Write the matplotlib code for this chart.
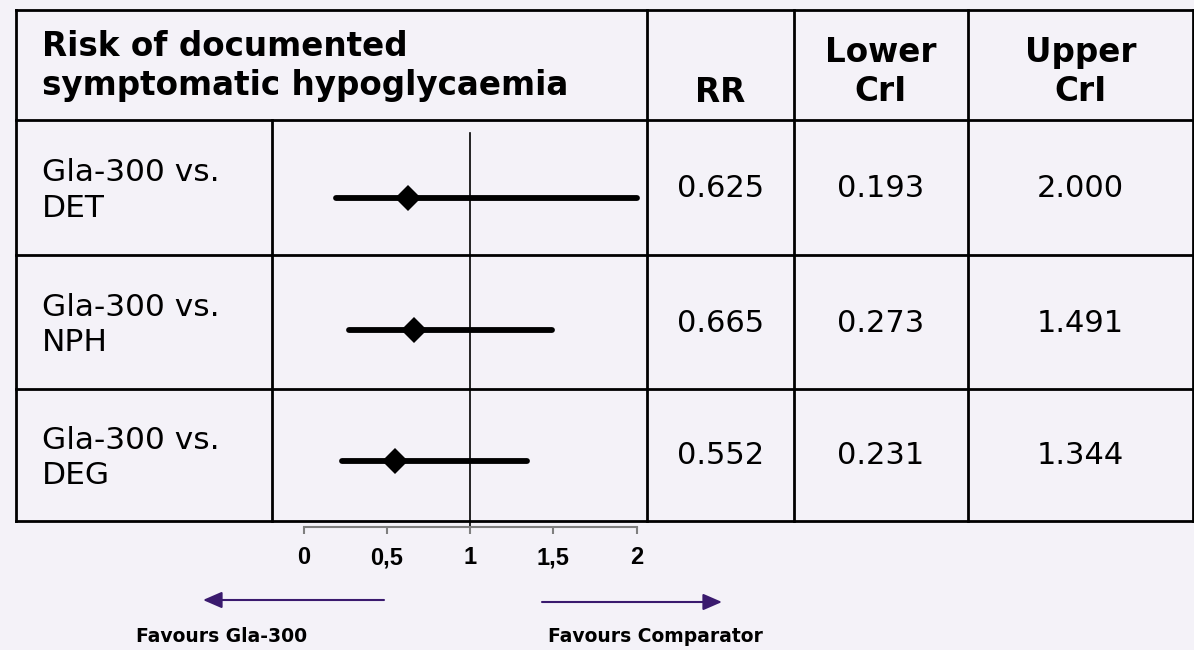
import matplotlib
matplotlib.use("Agg")
import matplotlib.pyplot as plt
from matplotlib.ticker import FuncFormatter, FixedLocator

# ---- data -------------------------------------------------------------
comparisons = ["Gla-300 vs.\nDET", "Gla-300 vs.\nNPH", "Gla-300 vs.\nDEG"]
rr = [0.625, 0.665, 0.552]
lower_cri = [0.193, 0.273, 0.231]
upper_cri = [2.000, 1.491, 1.344]
axis_ticks = [0, 0.5, 1, 1.5, 2]
title = "Risk of documented\nsymptomatic hypoglycaemia"
col_headers = ["RR", "Lower\nCrI", "Upper\nCrI"]
favours_left = "Favours Gla-300"
favours_right = "Favours Comparator"

# ---- style ------------------------------------------------------------
BG = "#F4F2F8"
INK = "#000000"
ARROW = "#3A1A6E"
AXIS_GREY = "#7F7F7F"
W, H = 1194, 650

fig = plt.figure(figsize=(W / 100, H / 100), dpi=100, facecolor=BG)

# full-figure canvas in pixel units for the table grid and text
cv = fig.add_axes([0, 0, 1, 1])
cv.set_xlim(0, W)
cv.set_ylim(H, 0)
cv.axis("off")
cv.set_facecolor(BG)

x_left, x_lab, x_rr, x_lo, x_up, x_right = 16, 272, 647, 794, 968, 1193
y_top, y_head = 10, 120
row_edges = [120, 255, 389, 521]
y_bot = row_edges[-1]
lw = 2.0

for y in [y_top] + row_edges:
    cv.plot([x_left, x_right], [y, y], color=INK, lw=lw, solid_capstyle="projecting")
for x in [x_left, x_rr, x_lo, x_up, x_right]:
    cv.plot([x, x], [y_top, y_bot], color=INK, lw=lw, solid_capstyle="projecting")
cv.plot([x_lab, x_lab], [y_head, y_bot], color=INK, lw=lw)

body_font = "DejaVu Sans"
fs_body = 22.5
fs_num = 22
fs_head = 23.5

cv.text(42, 66, title, ha="left", va="center", fontsize=fs_head,
        fontweight="bold", family=body_font, linespacing=1.2)
col_centers = [(x_rr + x_lo) / 2, (x_lo + x_up) / 2, (x_up + x_right) / 2]
cv.text(col_centers[0], 92, col_headers[0], ha="center", va="center",
        fontsize=fs_head, fontweight="bold", family=body_font)
for cx, hdr in zip(col_centers[1:], col_headers[1:]):
    cv.text(cx, 72, hdr, ha="center", va="center", fontsize=fs_head,
            fontweight="bold", family=body_font, linespacing=1.2)

for i, label in enumerate(comparisons):
    yc = (row_edges[i] + row_edges[i + 1]) / 2
    cv.text(42, yc + 3, label, ha="left", va="center", fontsize=fs_body,
            family=body_font, linespacing=1.28)
    for cx, val in zip(col_centers, (rr[i], lower_cri[i], upper_cri[i])):
        cv.text(cx, yc + 1, f"{val:.3f}", ha="center", va="center",
                fontsize=fs_num, family=body_font)

# ---- forest plot column ----------------------------------------------
px0, px_per_unit = 303.5, 166.5          # x pixel of RR=0 and pixels per unit
fx_left, fx_right = x_lab, x_rr
fy_top, fy_bot = y_head, 527
ax = fig.add_axes([fx_left / W, 1 - fy_bot / H, (fx_right - fx_left) / W,
                   (fy_bot - fy_top) / H])
ax.set_facecolor("none")
ax.set_xlim((fx_left - px0) / px_per_unit, (fx_right - px0) / px_per_unit)
row_px0, row_step = 198, 131.5
ax.set_ylim((fy_bot - row_px0) / row_step, (fy_top - row_px0) / row_step)

for s in ("top", "left", "right"):
    ax.spines[s].set_visible(False)
ax.spines["bottom"].set_bounds(axis_ticks[0], axis_ticks[-1])
ax.spines["bottom"].set_color(AXIS_GREY)
ax.spines["bottom"].set_linewidth(1.5)
ax.xaxis.set_major_locator(FixedLocator(axis_ticks))
ax.xaxis.set_major_formatter(FuncFormatter(lambda v, _: f"{v:g}".replace(".", ",")))
ax.tick_params(axis="x", direction="out", length=5, width=1.5, color=AXIS_GREY,
               pad=9, labelsize=17)
for t in ax.get_xticklabels():
    t.set_fontweight("bold")
    t.set_family("Liberation Sans")
ax.set_yticks([])

# line of no effect
ax.axvline(1, ymin=0, ymax=1 - 13 / (fy_bot - fy_top), color=INK, lw=1.2)

rows = list(range(len(comparisons)))
ax.hlines(rows, lower_cri, upper_cri, color=INK, lw=4.2, capstyle="round")
ax.plot(rr, rows, linestyle="none", marker="D", markersize=13,
        color=INK, markeredgewidth=0)

# ---- favours arrows ---------------------------------------------------
arrow_style = "-|>,head_length=1.15,head_width=0.5"
cv.annotate("", xy=(203, 600), xytext=(384, 600),
            arrowprops=dict(arrowstyle=arrow_style, color=ARROW, lw=1.5,
                            shrinkA=0, shrinkB=0))
cv.annotate("", xy=(722, 602), xytext=(542, 602),
            arrowprops=dict(arrowstyle=arrow_style, color=ARROW, lw=1.5,
                            shrinkA=0, shrinkB=0))
cv.text(222, 637, favours_left, ha="center", va="center", fontsize=13.5,
        fontweight="bold", family=body_font)
cv.text(655, 637, favours_right, ha="center", va="center", fontsize=13.5,
        fontweight="bold", family=body_font)

fig.savefig("out.png", dpi=100, facecolor=BG)
